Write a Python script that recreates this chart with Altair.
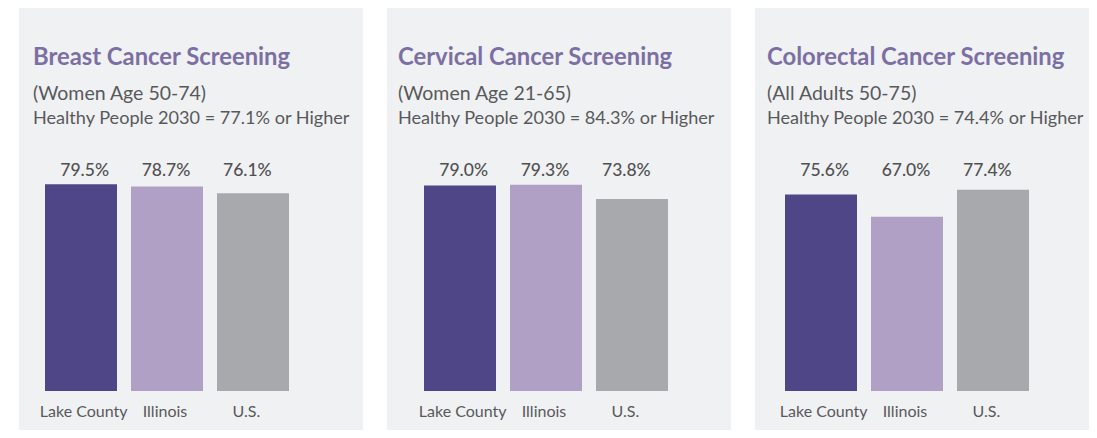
import altair as alt
import pandas as pd

categories = ["Lake County", "Illinois", "U.S."]
panel_titles = ["Breast Cancer Screening", "Cervical Cancer Screening", "Colorectal Cancer Screening"]
panel_groups = ["(Women Age 50-74)", "(Women Age 21-65)", "(All Adults 50-75)"]
panel_targets = ["Healthy People 2030 = 77.1% or Higher",
                 "Healthy People 2030 = 84.3% or Higher",
                 "Healthy People 2030 = 74.4% or Higher"]
breast = [79.5, 78.7, 76.1]
cervical = [79.0, 79.3, 73.8]
colorectal = [75.6, 67.0, 77.4]
series = [breast, cervical, colorectal]

colors = ["#4f4687", "#b0a0c5", "#a8a9ac"]
BG = "#f0f1f3"
FONT = "Lato"

# per-panel layout (pixels)
bar_x0 = [26, 37, 30]
text_x0 = [14, 11, 12]
widths = [344, 344, 340]
H = 434


def panel(i):
    df = pd.DataFrame({"cat": categories, "value": series[i]})
    df["label"] = df["value"].map(lambda v: f"{v:.1f}%")
    x0 = bar_x0[i]
    xscale = alt.Scale(domain=categories, range=[x0, x0 + 244], paddingInner=14 / 86, paddingOuter=0)
    yscale = alt.Scale(domain=[0, 100], range=[388, 128])
    base = alt.Chart(df)
    xenc = alt.X("cat:N", scale=xscale, axis=None, sort=categories)
    bars = base.mark_bar().encode(
        x=xenc,
        y=alt.Y("value:Q", scale=yscale, axis=None),
        color=alt.Color("cat:N", scale=alt.Scale(domain=categories, range=colors), legend=None),
    )
    vals = base.mark_text(font=FONT, fontSize=17.5, fontWeight=500, color="#505052", baseline="middle",
                          dx=-1).encode(
        x=xenc,
        y=alt.value(168),
        text="label:N",
    )
    cats = base.mark_text(font=FONT, fontSize=16, color="#58595b", baseline="alphabetic", dx=-2).encode(
        x=xenc,
        y=alt.value(414),
        text="cat:N",
    )
    tdf = pd.DataFrame({"title": [panel_titles[i]], "group": [panel_groups[i]], "target": [panel_targets[i]]})
    tb = alt.Chart(tdf)
    t1 = tb.mark_text(font=FONT, fontSize=23.8, fontWeight="bold", color="#7b6fa3", align="left",
                      baseline="alphabetic").encode(x=alt.value(text_x0[i]), y=alt.value(62), text="title:N")
    t2 = tb.mark_text(font=FONT, fontSize=19.5, color="#58595b", align="left",
                      baseline="alphabetic").encode(x=alt.value(text_x0[i]), y=alt.value(97), text="group:N")
    t3 = tb.mark_text(font=FONT, fontSize=18.1, color="#58595b", align="left",
                      baseline="alphabetic").encode(x=alt.value(text_x0[i]), y=alt.value(121), text="target:N")
    return alt.layer(bars, vals, cats, t1, t2, t3).properties(width=widths[i], height=H).resolve_scale(
        x="independent", y="independent", color="independent")


chart = alt.hconcat(panel(0), panel(1), panel(2), spacing=24).resolve_scale(
    x="independent", y="independent", color="independent"
).configure(
    background="white",
    padding={"left": 11, "top": -5, "right": -6, "bottom": -7},
    view=alt.ViewConfig(fill=BG, stroke="transparent", strokeWidth=0),
)

chart.save("out.html", embed_options={"renderer": "svg", "actions": False})
